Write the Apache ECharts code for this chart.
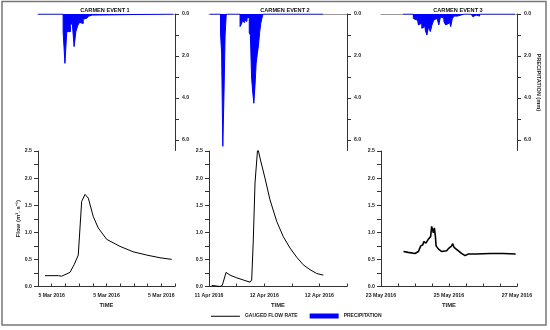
<!DOCTYPE html>
<html><head><meta charset="utf-8">
<script src="https://cdn.jsdelivr.net/npm/echarts@6/dist/echarts.min.js"></script>
<style>html,body{margin:0;padding:0;background:#fff}#c{width:550px;height:330px}</style>
</head><body><div id="c"></div>
<script>
const titles = ['CARMEN EVENT 1', 'CARMEN EVENT 2', 'CARMEN EVENT 3'];

// Event 1 : time in hours (5 Mar 2016)
const flow1Time = [5.27, 6.72, 7.09, 8.0, 8.45, 8.91, 9.28, 9.65, 10.01, 10.55, 11.10, 12.02, 13.48, 14.93, 16.40, 17.86, 19.14];
const flow1Rate = [0.20, 0.20, 0.19, 0.26, 0.40, 0.58, 1.57, 1.70, 1.63, 1.29, 1.08, 0.87, 0.74, 0.64, 0.58, 0.53, 0.50];
const rain1Start = 7.25, rain1Step = 0.2;
const rain1Depth = [0.84, 2.35, 0.84, 0.84, 0.55, 0.4, 1.55, 0.84, 0.55, 0.4, 0.45, 0.25, 0.2, 0.15, 0.1, 0.05];
const rain1Span = [4.5, 19.3];
const xRange1 = [4.5, 19.5];
const xTicks1 = [4.5, 6, 7.5, 9, 10.5, 12, 13.5, 15, 16.5, 18, 19.5];
const xLabelValues1 = [6, 12, 18];
const xLabels1 = ['5 Mar 2016', '5 Mar 2016', '5 Mar 2016'];

// Event 2 : time in hours from 11 Apr 2016 00:00
const flow2Time = [12.59, 14.39, 14.89, 15.7, 16.57, 18.02, 19.46, 20.91, 21.28, 21.63, 22.0, 22.59, 23.09, 24.17, 25.26, 26.72, 28.15, 29.61, 31.07, 32.5, 33.96, 35.41, 36.85];
const flow2Rate = [0.02, 0.0, 0.02, 0.26, 0.21, 0.16, 0.12, 0.08, 0.12, 0.86, 1.91, 2.56, 2.37, 2.0, 1.6, 1.2, 0.92, 0.71, 0.54, 0.40, 0.31, 0.24, 0.21];
const rain2Start = 14.5, rain2Step = 0.25;
const rain2Depth = [0.9, 1.9, 6.3, 3.9, 1.0, 0, 0, 0, 0, 0, 0, 0, 0, 0, 0, 0, 0,
  0.6, 0.5, 0.35, 0.4, 0.3, 0.35, 0.2, 0.15,
  0.9, 1.0, 3.0, 3.7, 4.25, 3.4, 2.35, 1.9, 1.5, 0.9, 0.45, 0.2];
const rain2Span = [12.2, 36.8];
const xRange2 = [12, 42];
const xTicks2 = [12, 18, 24, 30, 36, 42];
const xLabelValues2 = [12, 24, 36];
const xLabels2 = ['11 Apr 2016', '12 Apr 2016', '12 Apr 2016'];

// Event 3 : time in days of May 2016
const flow3Time = [23.66, 23.80, 24.0, 24.10, 24.17, 24.23, 24.26, 24.32, 24.39, 24.46, 24.49, 24.52, 24.54, 24.57, 24.60, 24.62, 24.69, 24.79, 24.93, 25.0, 25.08, 25.11, 25.15, 25.23, 25.37, 25.47, 25.57, 25.81, 26.21, 26.6, 26.96];
const flow3Rate = [0.645, 0.63, 0.61, 0.645, 0.75, 0.77, 0.83, 0.80, 0.87, 0.92, 1.11, 1.13, 0.99, 1.08, 0.92, 0.75, 0.69, 0.645, 0.66, 0.71, 0.75, 0.79, 0.72, 0.68, 0.61, 0.57, 0.60, 0.60, 0.61, 0.61, 0.60];
const rain3Start = 23.95, rain3Step = 0.05;
const rain3Depth = [0.21, 0.29, 0.05, 0.52, 0.44, 0.68, 0.6, 0.76, 1.0, 0.6, 0.84, 0.52, 0.29, 0.21, 0.13, 0.52, 0.13, 0.21, 0.36, 0.52, 0.44, 0.29, 0.6, 0.21, 0.1, 0.1, 0.05, 0.05,
  0, 0, 0, 0, 0, 0, 0, 0.13, 0.05, 0.1, 0.1];
const rain3Span = [23.65, 26.94];
const xRange3 = [23, 27];
const xTicks3 = [23, 23.5, 24, 24.5, 25, 25.5, 26, 26.5, 27];
const xLabelValues3 = [23, 25, 27];
const xLabels3 = ['23 May 2016', '25 May 2016', '27 May 2016'];

const flowTicks = [0, 0.25, 0.5, 0.75, 1, 1.25, 1.5, 1.75, 2, 2.25, 2.5];
const flowLabelValues = [0, 0.5, 1, 1.5, 2, 2.5];
const rainTicks = [0, 1, 2, 3, 4, 5, 6];
const rainLabelValues = [0, 2, 4, 6];

const FF = 'Liberation Sans, Arial, sans-serif';
const AX = '#333';

function zip(a, b) { return a.map((v, i) => [v, b[i]]); }
function rainData(start, step, depth, span) {
  const d = [[span[0], 0]];
  depth.forEach((v, i) => d.push([start + i * step, v]));
  d.push([start + depth.length * step, 0]);
  d.push([span[1], 0]);
  return d;
}

const events = [
  { flow: zip(flow1Time, flow1Rate), rain: rainData(rain1Start, rain1Step, rain1Depth, rain1Span), range: xRange1, ticks: xTicks1, lv: xLabelValues1, labels: xLabels1, left: 38, width: 137, tx: 105, lw: 1 },
  { flow: zip(flow2Time, flow2Rate), rain: rainData(rain2Start, rain2Step, rain2Depth, rain2Span), range: xRange2, ticks: xTicks2, lv: xLabelValues2, labels: xLabels2, left: 209, width: 138, tx: 285, lw: 1 },
  { flow: zip(flow3Time, flow3Rate), rain: rainData(rain3Start, rain3Step, rain3Depth, rain3Span), range: xRange3, ticks: xTicks3, lv: xLabelValues3, labels: xLabels3, left: 381, width: 136, tx: 458, lw: 1.6 }
];

const grid = [], xAxis = [], yAxis = [], series = [], graphic = [];
const lblStyle = { fontFamily: FF, fontWeight: 'bold', fontSize: 5.2, color: '#222' };

events.forEach((e, k) => {
  grid.push({ left: e.left, top: 14, width: e.width, height: 136.5, outerBoundsMode: 'none' });
});
events.forEach((e, k) => {
  grid.push({ left: e.left, top: 151, width: e.width, height: 135.5, outerBoundsMode: 'none' });
});

events.forEach((e, k) => {
  xAxis.push({
    gridIndex: k, type: 'value', min: e.range[0], max: e.range[1], position: 'top',
    axisLine: { show: true, onZero: false, lineStyle: { color: '#999', width: 1 } },
    axisTick: { show: false }, axisLabel: { show: false }, splitLine: { show: false }
  });
  yAxis.push({
    gridIndex: k, type: 'value', min: 0, max: 6.5, inverse: true, position: 'right',
    axisLine: { show: true, lineStyle: { color: AX, width: 1 } },
    axisTick: { show: true, length: 4, customValues: rainTicks, lineStyle: { color: AX } },
    axisLabel: Object.assign({ customValues: rainLabelValues, margin: 7, formatter: v => v.toFixed(1) }, lblStyle),
    splitLine: { show: false },
    name: k === 2 ? 'PRECIPITATION (mm)' : '', nameLocation: 'middle', nameGap: 18, nameRotate: -90,
    nameTextStyle: { fontFamily: FF, fontWeight: 'bold', fontSize: 5.6, color: '#222' }
  });
});
events.forEach((e, k) => {
  xAxis.push({
    gridIndex: 3 + k, type: 'value', min: e.range[0], max: e.range[1],
    axisLine: { show: true, onZero: false, lineStyle: { color: AX, width: 1 } },
    axisTick: { show: true, inside: true, length: 3, customValues: e.ticks, lineStyle: { color: AX } },
    axisLabel: Object.assign({
      customValues: e.lv, margin: 7,
      formatter: v => { let i = e.lv.findIndex(t => Math.abs(t - v) < 1e-6); return i >= 0 ? e.labels[i] : ''; }
    }, lblStyle),
    splitLine: { show: false },
    name: 'TIME', nameLocation: 'middle', nameGap: 16,
    nameTextStyle: { fontFamily: FF, fontWeight: 'bold', fontSize: 5.8, color: '#222' }
  });
  yAxis.push({
    gridIndex: 3 + k, type: 'value', min: 0, max: 2.5, interval: 0.5,
    axisLine: { show: true, lineStyle: { color: AX, width: 1 } },
    axisTick: { show: true, length: 4, customValues: flowTicks, lineStyle: { color: AX } },
    axisLabel: Object.assign({ customValues: flowLabelValues, margin: 6, formatter: v => v.toFixed(1) }, lblStyle),
    splitLine: { show: false },
    name: k === 0 ? 'Flow (m³. s⁻¹)' : '', nameLocation: 'middle', nameGap: 12,
    nameTextStyle: { fontFamily: FF, fontWeight: 'bold', fontSize: 6, color: '#222' }
  });
  series.push({
    name: 'PRECIPITATION', type: 'line', xAxisIndex: k, yAxisIndex: k, data: e.rain,
    step: 'end', symbol: 'none', lineStyle: { color: '#0000ff', width: 1 },
    itemStyle: { color: '#0000ff' }, areaStyle: { color: '#0000ff', opacity: 1 }, z: 3
  });
  series.push({
    name: 'GAUGED FLOW RATE', type: 'line', xAxisIndex: 3 + k, yAxisIndex: 3 + k, data: e.flow,
    symbol: 'none', lineStyle: { color: '#000', width: e.lw }, itemStyle: { color: '#000' }
  });
  graphic.push({
    type: 'text', x: e.tx, y: 10,
    style: { text: titles[k], font: 'bold 5.6px ' + FF, fill: '#111', textAlign: 'center', textVerticalAlign: 'middle' }
  });
});

graphic.push({
  type: 'rect', shape: { x: 2, y: 1.5, width: 544, height: 323.5 },
  style: { fill: 'none', stroke: '#777', lineWidth: 1.5 }, z: -1
});

const lineIcon = 'path://M0,0L29,0L29,0.01L0,0.01Z M0,2.2L29,2.2L29,3.2L0,3.2Z M0,5L29,5L29,5.01L0,5.01Z';

const chart = echarts.init(document.getElementById('c'), null, { renderer: 'canvas' });
chart.setOption({
  animation: false,
  backgroundColor: '#fff',
  grid, xAxis, yAxis, series, graphic,
  legend: {
    left: 206, top: 308.5, itemWidth: 29, itemHeight: 5, itemGap: 12,
    textStyle: { fontFamily: FF, fontWeight: 'bold', fontSize: 5, color: '#222' },
    data: [{ name: 'GAUGED FLOW RATE', icon: lineIcon }, { name: 'PRECIPITATION', icon: 'rect' }]
  }
});
</script>
</body></html>
